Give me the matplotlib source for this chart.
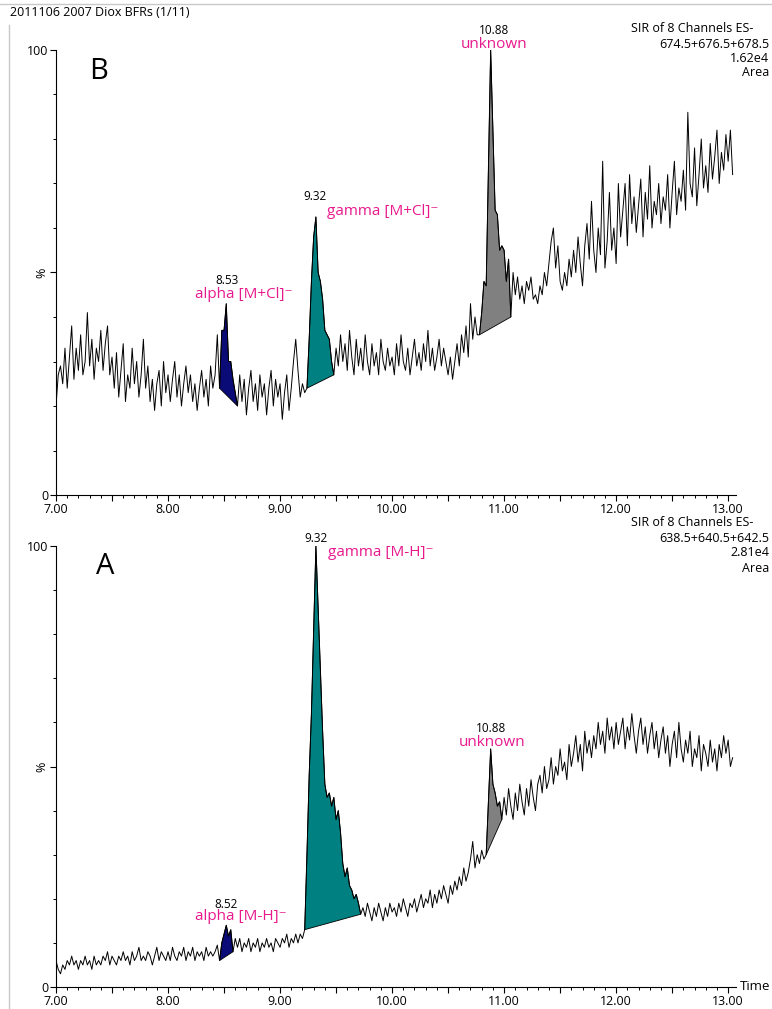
import numpy as np
import matplotlib
matplotlib.use('Agg')
import matplotlib.pyplot as plt
from matplotlib.ticker import MultipleLocator, FuncFormatter

plt.rcParams['font.family'] = ['Open Sans', 'DejaVu Sans']

# scan interval of the SIR traces (min), first scan at 7.00
t0 = 7.00
dt = 0.02

# panel B: 674.5+676.5+678.5, relative intensity %
b_pct = [
    20, 27, 29, 25, 33, 24, 31, 38, 26, 33,
    28, 36, 27, 30, 41, 29, 35, 26, 33, 30,
    37, 28, 34, 38, 27, 31, 24, 32, 22, 28,
    34, 21, 27, 24, 33, 25, 30, 22, 27, 35,
    24, 29, 21, 26, 19, 25, 28, 20, 30, 23,
    27, 21, 26, 30, 22, 27, 20, 25, 29, 23,
    27, 21, 25, 19, 24, 28, 22, 26, 20, 29,
    24, 27, 36, 24, 37, 37, 43, 30, 30, 26,
    23, 20, 27, 21, 26, 18, 24, 28, 21, 25,
    19, 27, 22, 25, 18, 24, 28, 20, 26, 22,
    25, 17, 23, 27, 19, 24, 30, 35, 28, 22,
    25, 23, 24, 35, 48, 58, 62.5, 50, 48, 44,
    37, 36, 35, 30, 27, 33, 29, 36, 30, 34,
    28, 37, 31, 27, 35, 29, 33, 28, 36, 30,
    27, 34, 29, 32, 27, 35, 30, 28, 33, 29,
    31, 27, 34, 29, 36, 30, 28, 33, 27, 31,
    35, 29, 32, 28, 34, 30, 37, 29, 33, 28,
    31, 35, 29, 33, 30, 27, 31, 26, 30, 34,
    29, 36, 32, 38, 31, 43, 35, 40, 36, 36,
    41, 48, 47, 73, 100, 82, 64, 63, 55, 56,
    55, 48, 53, 40, 50, 45, 49, 44, 47, 43,
    48, 46, 49, 44, 45, 43, 47, 45, 50, 47,
    52, 57, 60, 51, 56, 48, 46, 50, 47, 53,
    49, 55, 50, 58, 52, 47, 56, 61, 53, 66,
    55, 50, 60, 54, 75, 51, 57, 68, 55, 60,
    52, 70, 58, 64, 70, 56, 72, 61, 67, 59,
    65, 71, 58, 68, 62, 74, 60, 66, 63, 70,
    61, 67, 64, 72, 60, 68, 75, 63, 69, 66,
    73, 64, 86, 70, 67, 78, 65, 72, 80, 69,
    74, 68, 79, 71, 76, 82, 70, 77, 73, 81,
    75, 82, 72,
]

# panel A: 638.5+640.5+642.5, relative intensity %
a_pct = [
    6, 4, 3, 5, 4, 6, 5, 7, 5, 6,
    4, 6, 5, 7, 5, 6, 4, 7, 5, 6,
    5, 7, 6, 8, 5, 7, 6, 5, 7, 6,
    8, 6, 7, 5, 8, 6, 7, 9, 6, 7,
    6, 8, 7, 5, 7, 9, 6, 8, 7, 6,
    8, 6, 9, 7, 6, 8, 7, 9, 6, 8,
    7, 9, 6, 8, 7, 8, 6, 9, 7, 8,
    7, 8, 9.5, 6, 10, 12, 14, 11.5, 13, 8,
    11, 9, 11, 8, 10, 9, 11, 8, 10, 9,
    11, 8, 10, 9, 11, 9, 10, 8, 11, 10,
    9, 11, 10, 12, 9, 11, 10, 12, 10, 12,
    11, 13, 30, 48, 62, 81, 100, 86, 72, 58,
    46, 43, 44, 41, 43, 38, 40, 35, 28, 25,
    27, 23, 22, 20, 21, 19, 16.5, 18, 16, 19,
    17, 15, 18, 16, 19, 17, 15, 18, 16, 19,
    17, 18, 16, 19, 17, 20, 18, 16, 19, 18,
    20, 17, 19, 21, 18, 20, 19, 22, 18, 21,
    19, 22, 20, 23, 21, 19, 23, 21, 24, 22,
    25, 23, 27, 24, 26, 29, 33, 27, 30, 28,
    31, 29, 30, 42, 54, 46, 44, 41, 42, 38,
    43, 39, 45, 41, 38, 44, 40, 46, 42, 39,
    45, 41, 47, 43, 40, 46, 48, 44, 50, 45,
    47, 52, 46, 50, 48, 54, 49, 51, 47, 55,
    50, 53, 57, 51, 55, 49, 58, 53, 56, 52,
    57, 54, 60, 55, 58, 53, 61, 56, 59, 54,
    60, 55, 58, 61, 54, 59, 56, 62, 57, 53,
    58, 61, 55, 59, 53, 57, 60, 54, 58, 52,
    56, 59, 53, 57, 50, 55, 58, 52, 60, 54,
    51, 56, 53, 58, 50, 54, 52, 57, 49, 55,
    53, 50, 56, 51, 54, 49, 55, 52, 57, 53,
    56, 50, 52,
]

# integrated peaks: start, end (min)
b_peak_start = [8.46, 9.24, 10.78]
b_peak_end = [8.62, 9.48, 11.06]
a_peak_start = [8.46, 9.22, 10.84]
a_peak_end = [8.58, 9.72, 10.98]
peak_colors = ['#0b0b78', '#008080', '#808080']

b_info = ['SIR of 8 Channels ES-', '674.5+676.5+678.5', '1.62e4', 'Area']
a_info = ['SIR of 8 Channels ES-', '638.5+640.5+642.5', '2.81e4', 'Area']

pink = '#e8198d'
W, H = 772, 1009

fig = plt.figure(figsize=(W / 100, H / 100), dpi=100)


def px(x, y):
    return x / W, 1 - y / H


def draw_panel(ax, pct, starts, ends):
    y = np.array(pct, dtype=float)
    t = np.round(t0 + dt * np.arange(len(y)), 2)
    for s, e, c in zip(starts, ends, peak_colors):
        m = (t >= s - 1e-6) & (t <= e + 1e-6)
        ax.fill(t[m], y[m], facecolor=c, edgecolor='black', linewidth=0.6, zorder=2)
    ax.plot(t, y, color='black', linewidth=0.7, zorder=3)

    ax.set_xlim(7.0, 13.07)
    ax.set_ylim(0, 100)
    for side in ['top', 'right']:
        ax.spines[side].set_visible(False)
    for side in ['left', 'bottom']:
        ax.spines[side].set_linewidth(0.8)
    ax.xaxis.set_major_locator(MultipleLocator(0.5))
    ax.xaxis.set_minor_locator(MultipleLocator(0.1))
    ax.xaxis.set_major_formatter(FuncFormatter(
        lambda v, p: '%.2f' % v if abs(v - round(v)) < 1e-6 else ''))
    ax.set_yticks([0, 50, 100])
    ax.set_yticklabels(['0', '%', '100'])
    ax.yaxis.get_ticklabels()[1].set_rotation(90)
    ax.yaxis.set_minor_locator(MultipleLocator(10))
    ax.tick_params(axis='x', which='major', length=4.5, width=0.8, pad=1.2, labelsize=9)
    ax.tick_params(axis='x', which='minor', length=2.5, width=0.7)
    ax.tick_params(axis='y', which='major', length=4.5, width=0.8, pad=1, labelsize=9)
    ax.tick_params(axis='y', which='minor', length=2.5, width=0.7)
    ax.set_facecolor('none')


ax_b = fig.add_axes([56 / W, 1 - 495 / H, 680 / W, 445 / H])
draw_panel(ax_b, b_pct, b_peak_start, b_peak_end)
ax_a = fig.add_axes([56 / W, 1 - 987 / H, 680 / W, 441 / H])
draw_panel(ax_a, a_pct, a_peak_start, a_peak_end)

# frame lines of the printout
fig.add_artist(plt.Line2D([0, 1], [1 - 4 / H, 1 - 4 / H], color='#c8c8c8', lw=1))
fig.add_artist(plt.Line2D([9 / W, 9 / W], [0, 1 - 25 / H], color='#c8c8c8', lw=1))

fig.text(*px(10, 13), '2011106 2007 Diox BFRs (1/11)', fontsize=9, va='center')

# channel info blocks (right-aligned so they stay inside the page)
info_x = [753, 769, 769, 769]
for lines, ys in [(b_info, [29, 44, 58, 73]), (a_info, [523, 538, 553, 568])]:
    for s, x, y in zip(lines, info_x, ys):
        fig.text(*px(x, y), s, fontsize=9, va='center', ha='right')

fig.text(*px(99, 72), 'B', fontsize=21, ha='center', va='center')
fig.text(*px(105, 566), 'A', fontsize=21, ha='center', va='center')

# peak annotations
fig.text(*px(227, 281), '8.53', fontsize=8.5, ha='center', va='center')
fig.text(*px(195, 294), 'alpha [M+Cl]\u207b', fontsize=11, color=pink, va='center')
fig.text(*px(315, 196), '9.32', fontsize=8.5, ha='center', va='center')
fig.text(*px(327, 211), 'gamma [M+Cl]\u207b', fontsize=11, color=pink, va='center')
fig.text(*px(494, 30), '10.88', fontsize=8.5, ha='center', va='center')
fig.text(*px(494, 45), 'unknown', fontsize=11, color=pink, ha='center', va='center')

fig.text(*px(226, 904), '8.52', fontsize=8.5, ha='center', va='center')
fig.text(*px(195, 917), 'alpha [M-H]\u207b', fontsize=11, color=pink, va='center')
fig.text(*px(316, 539), '9.32', fontsize=8.5, ha='center', va='center')
fig.text(*px(328, 552), 'gamma [M-H]\u207b', fontsize=11, color=pink, va='center')
fig.text(*px(491, 729), '10.88', fontsize=8.5, ha='center', va='center')
fig.text(*px(492, 743), 'unknown', fontsize=11, color=pink, ha='center', va='center')

fig.text(*px(740, 987), 'Time', fontsize=9.5, va='center')

fig.savefig('out.png', dpi=100)
